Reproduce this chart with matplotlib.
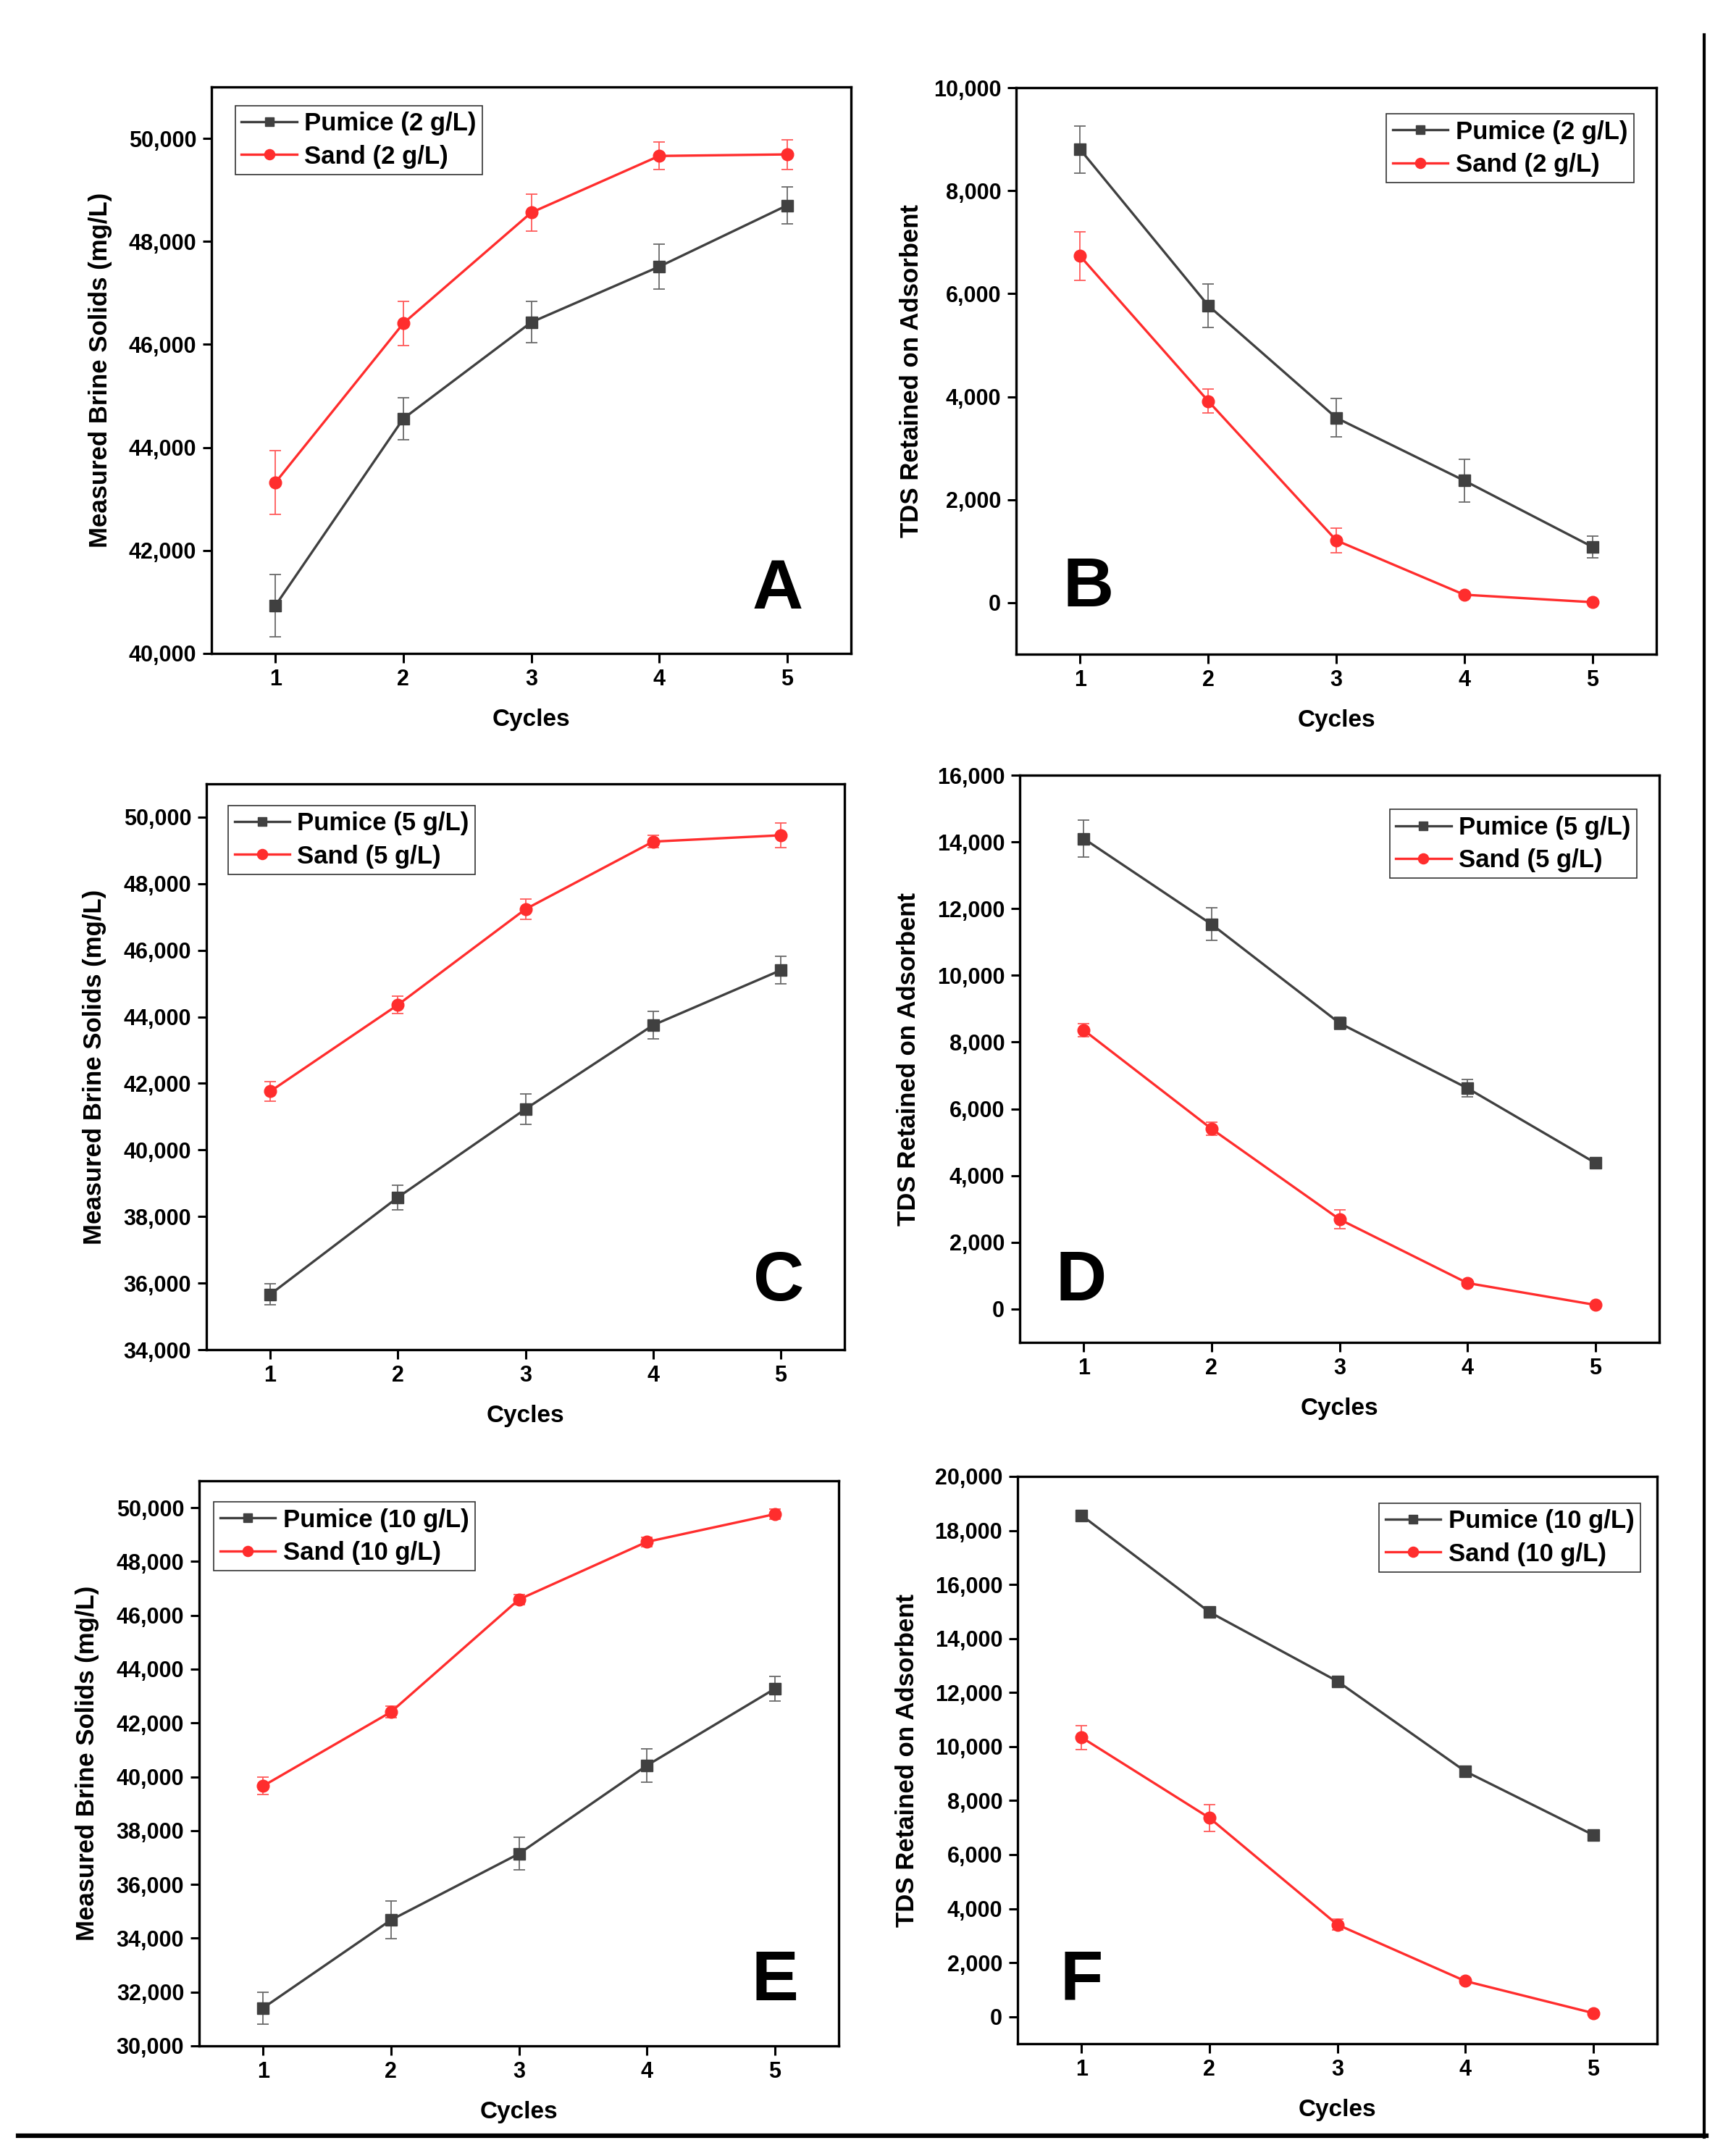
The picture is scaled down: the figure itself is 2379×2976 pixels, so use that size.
import numpy as np
import matplotlib
matplotlib.use("Agg")
import matplotlib.pyplot as plt
from matplotlib.lines import Line2D

plt.rcParams['font.family'] = ['Liberation Sans', 'DejaVu Sans']
plt.rcParams['font.weight'] = 'bold'

cycles = [1, 2, 3, 4, 5]

# A - measured brine solids, 2 g/L
a_pumice = [40930, 44560, 46430, 47510, 48700]
a_pumice_err = [600, 410, 400, 440, 360]
a_sand = [43320, 46410, 48560, 49660, 49690]
a_sand_err = [620, 430, 360, 270, 290]

# B - TDS retained, 2 g/L
b_pumice = [8800, 5770, 3590, 2370, 1085]
b_pumice_err = [460, 420, 370, 420, 210]
b_sand = [6730, 3915, 1210, 155, 10]
b_sand_err = [470, 230, 240, 40, 20]

# C - measured brine solids, 5 g/L
c_pumice = [35660, 38575, 41230, 43750, 45400]
c_pumice_err = [310, 370, 460, 420, 410]
c_sand = [41760, 44360, 47235, 49265, 49455]
c_sand_err = [300, 260, 300, 190, 370]

# D - TDS retained, 5 g/L
d_pumice = [14100, 11530, 8570, 6620, 4380]
d_pumice_err = [560, 490, 180, 260, 80]
d_sand = [8360, 5400, 2690, 780, 125]
d_sand_err = [200, 190, 290, 80, 40]

# E - measured brine solids, 10 g/L
e_pumice = [31410, 34680, 37140, 40420, 43270]
e_pumice_err = [590, 700, 610, 630, 460]
e_sand = [39660, 42410, 46590, 48730, 49760]
e_sand_err = [320, 220, 190, 170, 190]

# F - TDS retained, 10 g/L
f_pumice = [18560, 14980, 12420, 9085, 6730]
f_pumice_err = [150, 150, 100, 150, 80]
f_sand = [10340, 7360, 3410, 1320, 135]
f_sand_err = [440, 490, 200, 100, 40]

panels = [
    ("A", "2 g/L", a_pumice, a_pumice_err, a_sand, a_sand_err),
    ("B", "2 g/L", b_pumice, b_pumice_err, b_sand, b_sand_err),
    ("C", "5 g/L", c_pumice, c_pumice_err, c_sand, c_sand_err),
    ("D", "5 g/L", d_pumice, d_pumice_err, d_sand, d_sand_err),
    ("E", "10 g/L", e_pumice, e_pumice_err, e_sand, e_sand_err),
    ("F", "10 g/L", f_pumice, f_pumice_err, f_sand, f_sand_err),
]

W, H = 2379, 2976
# axes boxes in pixels: left, right, top, bottom
boxes = [
    (292, 1175, 120, 902),
    (1403, 2287, 121, 903),
    (285, 1166, 1082, 1863),
    (1408, 2291, 1070, 1853),
    (275, 1158, 2044, 2824),
    (1405, 2288, 2038, 2821),
]
ylims = [(40000, 51000), (-1000, 10000), (34000, 51000),
         (-1000, 16000), (30000, 51000), (-1000, 20000)]
ystep = 2000
ylabel_x = [-0.155, -0.145, -0.157, -0.155, -0.156, -0.154]
letter_pos = [(0.885, 0.111), (0.113, 0.116), (0.897, 0.119),
              (0.096, 0.106), (0.90, 0.113), (0.10, 0.11)]
legend_anchor = [("upper left", (0.037, 0.967)), ("upper right", (0.965, 0.954)),
                 ("upper left", (0.034, 0.962)), ("upper right", (0.965, 0.94)),
                 ("upper left", (0.023, 0.963)), ("upper right", (0.974, 0.953))]

pumice_col = '#404040'
sand_col = '#ff2d2d'

fig = plt.figure(figsize=(W / 100, H / 100), dpi=100)

for i, (letter, conc, pum, pum_err, sand, sand_err) in enumerate(panels):
    l, r, t, b = boxes[i]
    ax = fig.add_axes([l / W, 1 - b / H, (r - l) / W, (b - t) / H])
    c1 = ax.errorbar(cycles, pum, yerr=pum_err, color=pumice_col, ecolor='#6a6a6a',
                     elinewidth=1.3, capsize=6, capthick=1.3, marker='s', markersize=11,
                     linewidth=2.4)
    c2 = ax.errorbar(cycles, sand, yerr=sand_err, color=sand_col, ecolor='#ff5a5a',
                     elinewidth=1.3, capsize=6, capthick=1.3, marker='o', markersize=12,
                     linewidth=2.4)
    ax.set_xlim(0.5, 5.5)
    ax.set_ylim(*ylims[i])
    lo = int(np.ceil(ylims[i][0] / ystep) * ystep)
    hi = ylims[i][1]
    yt = np.arange(lo, hi + 1, ystep)
    ax.set_yticks(yt)
    ax.set_yticklabels(['{:,}'.format(int(v)) for v in yt])
    ax.set_xticks(cycles)
    for s in ax.spines.values():
        s.set_linewidth(2.4)
    ax.tick_params(axis='both', direction='out', length=9, width=2.2,
                   labelsize=22, pad=6)
    for lab in ax.get_xticklabels() + ax.get_yticklabels():
        lab.set_fontweight('bold')
    ax.set_xlabel('Cycles', fontsize=24, fontweight='bold')
    ax.xaxis.set_label_coords(0.5, -0.097)
    if i % 2 == 0:
        ax.set_ylabel('Measured Brine Solids (mg/L)', fontsize=25, fontweight='bold')
    else:
        ax.set_ylabel('TDS Retained on Adsorbent', fontsize=25, fontweight='bold')
    ax.yaxis.set_label_coords(ylabel_x[i], 0.5)
    lx, ly = letter_pos[i]
    ax.text(lx, ly, letter, transform=ax.transAxes, fontsize=70,
            fontweight='bold', ha='center', va='center')
    loc, anchor = legend_anchor[i]
    leg = ax.legend([c1.lines[0], c2.lines[0]],
                    ['Pumice (%s)' % conc, 'Sand (%s)' % conc],
                    loc=loc, bbox_to_anchor=anchor, fontsize=25, frameon=True,
                    fancybox=False, edgecolor='black', borderpad=0.25,
                    handlelength=2.2, handletextpad=0.3, labelspacing=0.35,
                    borderaxespad=0, markerscale=0.85)
    leg.get_frame().set_linewidth(1.2)
    for txt in leg.get_texts():
        txt.set_fontweight('bold')

# page border lines
fig.add_artist(Line2D([2353 / W, 2353 / W], [1 - 48 / H, 1 - 2950 / H],
                      color='black', linewidth=3, transform=fig.transFigure))
fig.add_artist(Line2D([25 / W, 2356 / W], [1 - 2948 / H, 1 - 2948 / H],
                      color='black', linewidth=4.5, transform=fig.transFigure))

fig.savefig('out.png', dpi=100, facecolor='white')
